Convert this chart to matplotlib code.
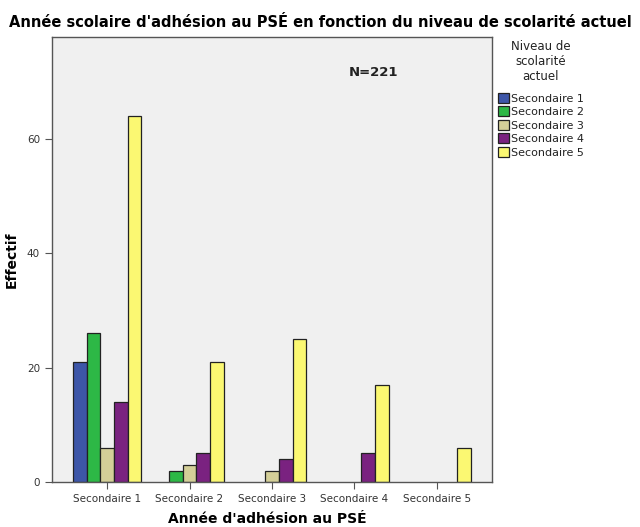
import numpy as np
import matplotlib.pyplot as plt

# Data
annees = ["Secondaire 1", "Secondaire 2", "Secondaire 3", "Secondaire 4", "Secondaire 5"]
niveaux = ["Secondaire 1", "Secondaire 2", "Secondaire 3", "Secondaire 4", "Secondaire 5"]
# counts[niveau][annee]
sec1 = [21, 0, 0, 0, 0]
sec2 = [26, 2, 0, 0, 0]
sec3 = [6, 3, 2, 0, 0]
sec4 = [14, 5, 4, 5, 0]
sec5 = [64, 21, 25, 17, 6]
couleurs = ["#3D56A8", "#2DB846", "#D4CF98", "#7A2280", "#FBF872"]

plt.rcParams['font.family'] = ['DejaVu Sans']
fig = plt.figure(figsize=(6.4, 5.27), dpi=100)
ax = fig.add_axes([0.081, 0.0854, 0.688, 0.845])
ax.set_facecolor("#F0F0F0")

x = np.arange(len(annees))
w = 0.166
for i, (vals, nom) in enumerate(zip([sec1, sec2, sec3, sec4, sec5], niveaux)):
    v = np.array(vals, dtype=float)
    keep = v > 0
    ax.bar(x[keep] + (i - 2) * w, v[keep], width=w, color=couleurs[i],
           edgecolor="#222222", linewidth=0.9, label=nom)

ax.set_xlim(-0.67, 4.67)
ax.set_ylim(0, 77.8)
ax.set_yticks([0, 20, 40, 60])
ax.set_xticks(x)
ax.set_xticklabels(annees, fontsize=7.5, color="#333333")
ax.tick_params(axis='y', labelsize=7.5, labelcolor="#333333", length=5, color="#555555")
ax.tick_params(axis='x', length=5, color="#555555")
for s in ax.spines.values():
    s.set_color("#555555")
    s.set_linewidth(1.0)

ax.set_ylabel("Effectif", fontsize=10, fontweight="bold")
ax.yaxis.set_label_coords(-0.075, 0.5)
ax.set_xlabel("Année d'adhésion au PSÉ", fontsize=10, fontweight="bold")
ax.xaxis.set_label_coords(0.49, -0.068)
fig.text(0.5, 0.958, "Année scolaire d'adhésion au PSÉ en fonction du niveau de scolarité actuel",
         ha="center", va="center", fontsize=10.5, fontweight="bold")
ax.text(0.73, 0.92, "N=221", transform=ax.transAxes, ha="center", va="center",
        fontsize=9.5, fontweight="bold", color="#222222")

leg = ax.legend(title="Niveau de\nscolarité\nactuel", loc="upper left",
                bbox_to_anchor=(1.0, 1.005), frameon=False, fontsize=8,
                title_fontsize=8.5, handlelength=1.0, handleheight=1.0,
                handletextpad=0.2, labelspacing=0.25, borderaxespad=0.1)
leg._legend_box.align = "center"
leg._legend_box.sep = 7
leg.get_title().set_multialignment("center")
leg.get_title().set_color("#222222")
for t in leg.get_texts():
    t.set_color("#222222")

fig.savefig("out.png", dpi=100)
